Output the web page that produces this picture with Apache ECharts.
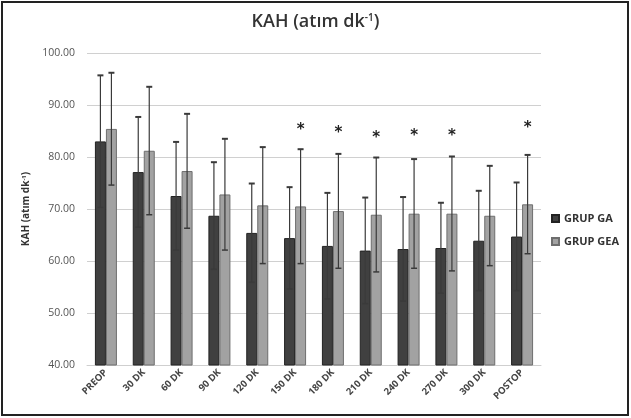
<!DOCTYPE html>
<html><head><meta charset="utf-8">
<script src="https://cdn.jsdelivr.net/npm/echarts@6/dist/echarts.min.js"></script>
<style>html,body{margin:0;padding:0;background:#fff}#c{width:631px;height:418px}</style>
</head><body><div id="c"></div>
<script>
var categories = ['PREOP','30 DK','60 DK','90 DK','120 DK','150 DK','180 DK','210 DK','240 DK','270 DK','300 DK','POSTOP'];
var gaMean = [83.0,77.1,72.5,68.7,65.4,64.4,62.9,62.0,62.3,62.5,63.9,64.7];
var gaSD   = [12.7,10.6,10.4,10.3,9.5,9.8,10.2,10.2,10.0,8.7,9.6,10.4];
var geaMean = [85.4,81.2,77.3,72.8,70.7,70.5,69.6,68.9,69.1,69.1,68.7,70.9];
var geaSD   = [10.8,12.3,11.0,10.7,11.2,11.0,11.0,11.0,10.5,11.0,9.6,9.5];
var starPos = [null,null,null,null,null,85.6,84.9,84.1,84.4,84.4,null,86.0];
var yTicks = [40,50,60,70,80,90,100];

var BW = 11;
function errData(mean, sd){ return mean.map(function(m,i){ return [i, m - sd[i], m + sd[i]]; }); }
function errSeries(mean, sd, side){
  return {
    type:'custom', z:5,
    data: errData(mean, sd),
    renderItem: function(params, api){
      var lo = api.coord([api.value(0), api.value(1)]);
      var hi = api.coord([api.value(0), api.value(2)]);
      var x = lo[0] + side*BW/2;
      var st = {stroke:'#3a3a3a', lineWidth:1.2};
      return {type:'group', children:[
        {type:'line', shape:{x1:x,y1:lo[1],x2:x,y2:hi[1]}, style:st},
        {type:'line', shape:{x1:x-3,y1:hi[1],x2:x+3,y2:hi[1]}, style:{stroke:'#3a3a3a', lineWidth:2}},
        {type:'line', shape:{x1:x-3,y1:lo[1],x2:x+3,y2:lo[1]}, style:{stroke:'#3a3a3a', lineWidth:1.5}}
      ]};
    }
  };
}
var chart = echarts.init(document.getElementById('c'), null, {renderer:'canvas'});
chart.setOption({
  animation:false,
  backgroundColor:'#fff',
  title:{
    text:'{m|KAH (atım dk}{s|-1}{m|)}', left:'center', top:8,
    textStyle:{rich:{
      m:{fontFamily:'Open Sans', fontSize:18, fontWeight:600, color:'#333'},
      s:{fontFamily:'Open Sans', fontSize:10, fontWeight:600, color:'#333', verticalAlign:'top', padding:[0,0,8,0]}
    }}
  },
  legend:{
    orient:'vertical', left:546, top:208, itemGap:12, itemWidth:7, itemHeight:7,
    textStyle:{fontFamily:'Open Sans', fontSize:11, fontWeight:700, color:'#333'},
    icon:'rect',
    data:['GRUP GA','GRUP GEA']
  },
  grid:{left:87, right:90, top:53, bottom:53},
  xAxis:{
    type:'category', data:categories,
    axisLine:{show:true, lineStyle:{color:'#cfcfcf'}}, axisTick:{show:false},
    axisLabel:{rotate:45, interval:0, fontFamily:'Open Sans', fontSize:9.5, fontWeight:700, color:'#444', margin:6}
  },
  yAxis:{
    type:'value', min:40, max:100, interval:10,
    name:'{m|KAH (atım dk}{s|-1}{m|)}', nameLocation:'middle', nameGap:55, nameRotate:90,
    nameTextStyle:{rich:{
      m:{fontFamily:'Open Sans', fontSize:10, fontWeight:700, color:'#333'},
      s:{fontFamily:'Open Sans', fontSize:6, fontWeight:700, color:'#333', verticalAlign:'top'}
    }},
    axisLine:{show:false}, axisTick:{show:false},
    axisLabel:{fontFamily:'Open Sans', fontSize:10.5, color:'#555', margin:12,
      formatter:function(v){ return yTicks.indexOf(v) >= 0 ? v.toFixed(2) : ''; }},
    splitLine:{lineStyle:{color:'#d0d0d0', width:1}}
  },
  series:[
    {name:'GRUP GA', type:'bar', data:gaMean, barWidth:BW, barGap:'0%',
     itemStyle:{color:'#404040', borderColor:'#222', borderWidth:1}},
    {name:'GRUP GEA', type:'bar', data:geaMean, barWidth:BW,
     itemStyle:{color:'#a2a2a2', borderColor:'#6e6e6e', borderWidth:1}},
    errSeries(gaMean, gaSD, -1),
    errSeries(geaMean, geaSD, 1),
    {type:'custom', z:6,
     data: starPos.map(function(v,i){ return v==null ? [i, null] : [i, v]; }),
     renderItem:function(params, api){
       if (api.value(1) == null || isNaN(api.value(1))) return;
       var p = api.coord([api.value(0), api.value(1)]);
       return {type:'text', style:{text:'*', x:p[0]+BW/2, y:p[1]+2, textAlign:'center', textVerticalAlign:'middle',
         font:'bold 15px "DejaVu Sans"', fill:'#222'}};
     }}
  ],
  graphic:[{type:'rect', shape:{x:2,y:2,width:626,height:413}, style:{fill:'none', stroke:'#222', lineWidth:2}, z:100}]
});
</script></body></html>
